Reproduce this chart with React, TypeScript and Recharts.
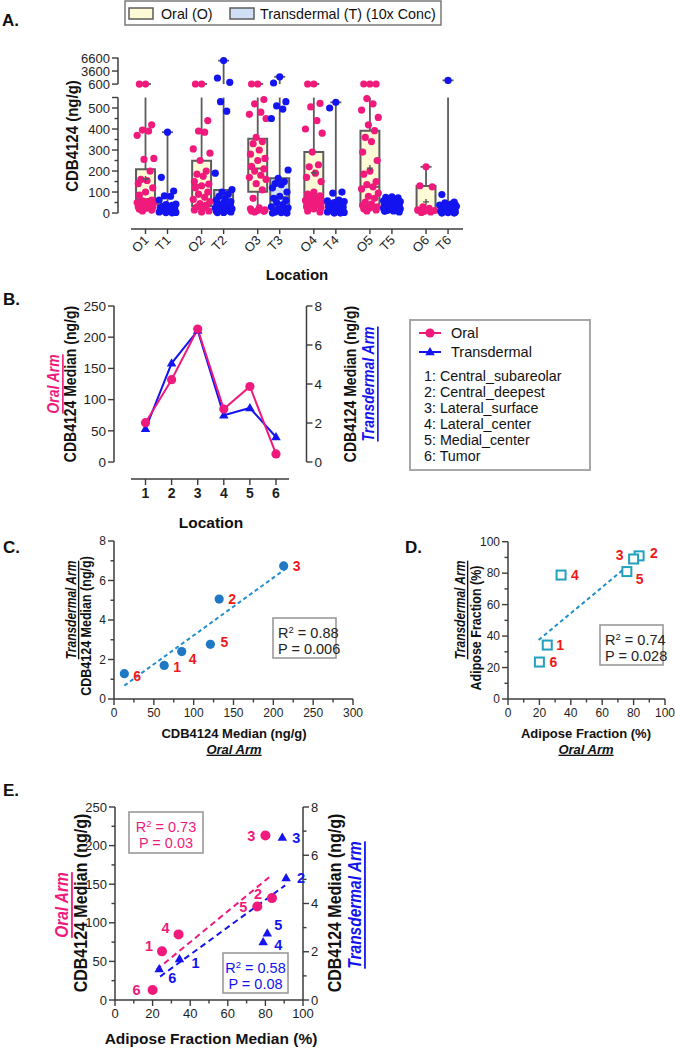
import React from "react";
import {
  ComposedChart,
  Line,
  ReferenceArea,
  ReferenceLine,
  Scatter,
  XAxis,
  YAxis,
} from "recharts";

const FONT = "'Liberation Sans', Arial, Helvetica, sans-serif";
const AX = "#3c3c3c";
const PINK = "#f01a7c";
const BLUE = "#1414f0";
const DOT_BLUE = "#1f78c4";
const TEAL = "#22a0c0";
const FIT = "#1f8fd0";
const RED = "#f01818";
const OFILL = "#fdfbd6";
const TFILL = "#cfe0f6";
const BOXLINE = "#5c5c5c";
const TS = 5;
const TM = 2;

// ---------- Panel A: CDB4124 by location (box + points)
const groupNames = ["O1", "T1", "O2", "T2", "O3", "T3", "O4", "T4", "O5", "T5", "O6", "T6"];
const boxQ1 = [38, 4, 33, 19, 101, 22, 40, 0, 33, 8, 2, 0];
const boxMedian = [66, 20, 133, 49, 212, 75, 85, 30, 125, 25, 6, 10];
const boxQ3 = [208, 42, 249, 110, 354, 166, 290, 56, 392, 48, 129, 48];
const whiskerLow = [10, 0, 5, 0, 5, 0, 5, 0, 10, 0, 0, 0];
const whiskerHigh = [605, 385, 620, 6000, 620, 2270, 620, 527, 640, 77, 220, 1450];
const boxMean: (number | null)[] = [162, null, null, null, null, null, 192, null, 214, null, 53, null];
const groupPoints: number[][] = [
  [600, 605, 420, 395, 390, 370, 260, 255, 200, 160, 155, 140, 120, 100, 85, 62, 58, 55, 50, 48, 45, 42, 40, 36, 30, 28, 22, 18, 14, 10],
  [385, 170, 105, 82, 80, 62, 42, 40, 36, 32, 28, 24, 20, 18, 15, 12, 10, 8, 5, 3, 2, 1],
  [610, 620, 440, 390, 385, 305, 285, 250, 200, 185, 175, 150, 138, 130, 120, 100, 90, 75, 65, 55, 45, 38, 30, 25, 15, 10, 5],
  [6000, 2000, 1000, 530, 485, 190, 112, 100, 90, 80, 70, 62, 55, 50, 45, 40, 35, 30, 25, 20, 18, 15, 12, 10, 8, 5, 3, 2],
  [620, 615, 540, 520, 480, 470, 450, 360, 340, 330, 300, 280, 260, 250, 222, 210, 200, 180, 170, 160, 140, 110, 70, 25, 20, 15, 12, 10, 8, 5],
  [2270, 850, 530, 510, 495, 450, 205, 165, 150, 140, 135, 120, 100, 80, 70, 60, 50, 40, 30, 25, 20, 10, 5, 2, 0, 0],
  [615, 620, 522, 505, 440, 400, 380, 290, 230, 220, 190, 170, 150, 100, 90, 82, 75, 70, 60, 55, 50, 45, 40, 35, 30, 25, 20, 10, 5],
  [527, 500, 100, 95, 62, 58, 55, 50, 45, 40, 36, 32, 28, 25, 20, 15, 10, 8, 5, 3, 0, 0],
  [620, 615, 610, 545, 520, 490, 455, 420, 392, 360, 340, 290, 250, 200, 185, 150, 135, 125, 115, 95, 80, 70, 52, 42, 36, 30, 25, 20, 15, 10],
  [77, 75, 72, 68, 62, 58, 55, 50, 46, 44, 42, 40, 38, 35, 32, 30, 28, 25, 22, 20, 18, 15, 12, 10, 8, 5],
  [220, 130, 125, 30, 22, 15, 12, 8, 5, 3],
  [1450, 88, 52, 48, 42, 38, 32, 28, 22, 18, 12, 8, 5, 2, 0, 0],
];
const aLowerMajor = [0, 100, 200, 300, 400, 500];
const aLowerMinor = [50, 150, 250, 350, 450];
const aUpperMajor = [600, 3600, 6600];

// ---------- Panels B-E: medians per location
const locations = [1, 2, 3, 4, 5, 6];
const locNames = ["Central_subareolar", "Central_deepest", "Lateral_surface", "Lateral_center", "Medial_center", "Tumor"];
const oralMedian = [63, 132, 213, 85, 121, 13];
const transMedian = [1.7, 5.06, 6.74, 2.4, 2.77, 1.28];
const adiposeOral = [25, 83.5, 80, 33.8, 75.7, 20];
const adiposeTrans = [34.3, 91, 89, 78.8, 81, 23.5];
const fitC = [{ x: 13, y: 0.68 }, { x: 214, y: 6.55 }];
const fitD = [{ x: 19.5, y: 37.5 }, { x: 75.5, y: 84 }];
const fitEOral = [{ x: 22, y: 39 }, { x: 82, y: 159 }];
const fitETrans = [{ x: 24, y: 0.97 }, { x: 90.5, y: 4.75 }];

// layout helpers
const JITTER = [0, -0.28, 0.28, -0.14, 0.14, -0.38, 0.38, -0.07, 0.21, -0.21, 0.07, -0.33, 0.33];
const gx = (i: number) => Math.floor(i / 2) * 2.55 + (i % 2);
const yb = (v: number) => (v <= 550 ? v : 614 + (v - 600) * 0.02067);

const oralPts: { x: number; y: number }[] = [];
const transPts: { x: number; y: number }[] = [];
groupPoints.forEach((vals, i) =>
  vals.forEach((v, j) => (i % 2 === 0 ? oralPts : transPts).push({ x: gx(i) + JITTER[j % JITTER.length], y: yb(v) }))
);
const meanPts = boxMean
  .map((m, i) => (m === null ? null : { x: gx(i), y: yb(m) }))
  .filter(Boolean) as { x: number; y: number }[];

const aTicks = [
  ...aLowerMajor.map((v) => ({ t: yb(v), label: String(v), long: true })),
  ...aLowerMinor.map((v) => ({ t: yb(v), label: "", long: false })),
  { t: yb(550), label: "", long: true },
  ...aUpperMajor.map((v) => ({ t: yb(v), label: String(v), long: true })),
];

type Side = "left" | "right" | "bottom";
function makeTick(side: Side, majors: number[], fontSize = 12, bold = false) {
  return function Tick(p: any) {
    const v = p.payload.value;
    const major = majors.some((m) => Math.abs(m - v) < 1e-6);
    const len = major ? 6 : 3.5;
    const txt = { fontFamily: FONT, fontSize, fontWeight: bold ? 700 : 400, fill: "#1e1e1e" };
    if (side === "bottom") {
      const ay = p.y - TS - TM;
      return (
        <g>
          <line x1={p.x} x2={p.x} y1={ay} y2={ay + len} stroke={AX} strokeWidth={1.4} />
          {major && (
            <text x={p.x} y={ay + 8} dy="0.8em" textAnchor="middle" {...txt}>
              {v}
            </text>
          )}
        </g>
      );
    }
    const ax = side === "left" ? p.x + TS + TM : p.x - TS - TM;
    const s = side === "left" ? -1 : 1;
    return (
      <g>
        <line x1={ax} x2={ax + s * len} y1={p.y} y2={p.y} stroke={AX} strokeWidth={1.4} />
        {major && (
          <text x={ax + s * 8} y={p.y} dy="0.36em" textAnchor={side === "left" ? "end" : "start"} {...txt}>
            {v}
          </text>
        )}
      </g>
    );
  };
}

const ATickY = (p: any) => {
  const t = p.payload.value;
  const info = aTicks.find((k) => Math.abs(k.t - t) < 0.01);
  const ax = p.x + TS + TM;
  const len = info && info.long ? 6 : 3.5;
  return (
    <g>
      <line x1={ax} x2={ax - len} y1={p.y} y2={p.y} stroke={AX} strokeWidth={1.4} />
      {info && info.label && (
        <text x={ax - 8} y={p.y} dy="0.36em" textAnchor="end" fontFamily={FONT} fontSize={13} fill="#1e1e1e">
          {info.label}
        </text>
      )}
    </g>
  );
};

const ATickX = (p: any) => {
  const idx = groupNames.findIndex((_, i) => Math.abs(gx(i) - p.payload.value) < 0.01);
  const ay = p.y - TS - TM;
  return (
    <g>
      <line x1={p.x} x2={p.x} y1={ay} y2={ay + 5} stroke={AX} strokeWidth={1.4} />
      <text
        x={p.x + 4}
        y={ay + 12}
        transform={`rotate(-45 ${p.x + 4} ${ay + 12})`}
        textAnchor="end"
        fontFamily={FONT}
        fontSize={13}
        fill="#1e1e1e"
      >
        {groupNames[idx]}
      </text>
    </g>
  );
};

const tri = (cx: number, cy: number, s: number) =>
  `M${cx},${cy - s} L${cx + s * 0.95},${cy + s * 0.65} L${cx - s * 0.95},${cy + s * 0.65} Z`;

function PanelA() {
  const xMin = -1.25;
  return (
    <ComposedChart width={675} height={260} margin={{ top: 55.5, right: 212, bottom: 0, left: 68 }}>
      <XAxis
        type="number"
        dataKey="x"
        domain={[xMin, 14.43]}
        ticks={groupNames.map((_, i) => gx(i))}
        interval={0}
        allowDataOverflow
        axisLine={false}
        tickLine={false}
        tickSize={TS}
        tickMargin={TM}
        height={31}
        tick={ATickX}
      />
      <YAxis
        type="number"
        dataKey="y"
        domain={[-76, 750]}
        ticks={aTicks.map((k) => k.t)}
        interval={0}
        allowDataOverflow
        axisLine={false}
        tickLine={false}
        tickSize={TS}
        tickMargin={TM}
        width={50}
        tick={ATickY}
      />
      <ReferenceLine segment={[{ x: xMin, y: 0 }, { x: xMin, y: 550 }]} stroke={AX} strokeWidth={1.5} ifOverflow="visible" />
      <ReferenceLine segment={[{ x: xMin, y: yb(600) }, { x: xMin, y: yb(6650) }]} stroke={AX} strokeWidth={1.5} ifOverflow="visible" />
      <ReferenceLine segment={[{ x: -0.66, y: -76 }, { x: 14.43, y: -76 }]} stroke={AX} strokeWidth={1.5} ifOverflow="visible" />
      {groupNames.map((_, i) => {
        const x = gx(i);
        const hi = whiskerHigh[i];
        const els = [
          <ReferenceLine key={`wl${i}`} segment={[{ x, y: whiskerLow[i] }, { x, y: boxQ1[i] }]} stroke={BOXLINE} strokeWidth={1.8} ifOverflow="visible" />,
          <ReferenceLine key={`wh${i}`} segment={[{ x, y: boxQ3[i] }, { x, y: Math.min(hi, 550) }]} stroke={BOXLINE} strokeWidth={1.8} ifOverflow="visible" />,
        ];
        if (hi > 600) {
          els.push(
            <ReferenceLine key={`wu${i}`} segment={[{ x, y: yb(600) }, { x, y: yb(hi) }]} stroke={BOXLINE} strokeWidth={1.8} ifOverflow="visible" />
          );
        }
        els.push(
          <ReferenceLine key={`cap${i}`} segment={[{ x: x - 0.25, y: yb(hi) }, { x: x + 0.25, y: yb(hi) }]} stroke={BOXLINE} strokeWidth={1.8} ifOverflow="visible" />,
          <ReferenceArea
            key={`box${i}`}
            x1={x - 0.43}
            x2={x + 0.43}
            y1={boxQ1[i]}
            y2={boxQ3[i]}
            fill={i % 2 === 0 ? OFILL : TFILL}
            fillOpacity={1}
            stroke={BOXLINE}
            strokeWidth={2}
            ifOverflow="visible"
          />,
          <ReferenceLine key={`med${i}`} segment={[{ x: x - 0.43, y: boxMedian[i] }, { x: x + 0.43, y: boxMedian[i] }]} stroke={BOXLINE} strokeWidth={2} ifOverflow="visible" />
        );
        return els;
      })}
      <Scatter data={oralPts} fill={PINK} isAnimationActive={false} shape={(p: any) => <circle cx={p.cx} cy={p.cy} r={3.6} fill={PINK} />} />
      <Scatter data={transPts} fill={BLUE} isAnimationActive={false} shape={(p: any) => <circle cx={p.cx} cy={p.cy} r={3.6} fill={BLUE} />} />
      <Scatter
        data={meanPts}
        isAnimationActive={false}
        shape={(p: any) => (
          <path d={`M${p.cx - 3},${p.cy} H${p.cx + 3} M${p.cx},${p.cy - 3} V${p.cy + 3}`} stroke="#555" strokeWidth={1.4} />
        )}
      />
    </ComposedChart>
  );
}

const bData = locations.map((loc, i) => ({ loc, oral: oralMedian[i], trans: transMedian[i] }));

function PanelB() {
  const xMin = -0.207;
  const xMax = 7.169;
  return (
    <ComposedChart width={675} height={210} data={bData} margin={{ top: 16, right: 328.5, bottom: 0, left: 74 }}>
      <XAxis
        type="number"
        dataKey="loc"
        domain={[xMin, xMax]}
        ticks={locations}
        interval={0}
        allowDataOverflow
        axisLine={false}
        tickLine={false}
        tickSize={TS}
        tickMargin={TM}
        height={21}
        tick={makeTick("bottom", locations, 14, true)}
      />
      <YAxis
        yAxisId="l"
        type="number"
        domain={[-27.2, 250]}
        ticks={[0, 50, 100, 150, 200, 250]}
        interval={0}
        allowDataOverflow
        axisLine={false}
        tickLine={false}
        tickSize={TS}
        tickMargin={TM}
        width={40}
        tick={makeTick("left", [0, 50, 100, 150, 200, 250], 13.5)}
      />
      <YAxis
        yAxisId="r"
        orientation="right"
        type="number"
        domain={[-0.872, 8]}
        ticks={[0, 2, 4, 6, 8]}
        interval={0}
        allowDataOverflow
        axisLine={false}
        tickLine={false}
        tickSize={TS}
        tickMargin={TM}
        width={40}
        tick={makeTick("right", [0, 2, 4, 6, 8], 13.5)}
      />
      <ReferenceLine yAxisId="l" segment={[{ x: xMin, y: 0 }, { x: xMin, y: 250 }]} stroke={AX} strokeWidth={1.5} ifOverflow="visible" />
      <ReferenceLine yAxisId="r" segment={[{ x: xMax, y: 0 }, { x: xMax, y: 8 }]} stroke={AX} strokeWidth={1.5} ifOverflow="visible" />
      <ReferenceLine yAxisId="l" segment={[{ x: 0.444, y: -27.2 }, { x: 6.5, y: -27.2 }]} stroke={AX} strokeWidth={1.5} ifOverflow="visible" />
      <Line
        yAxisId="r"
        type="linear"
        dataKey="trans"
        stroke={BLUE}
        strokeWidth={2}
        isAnimationActive={false}
        dot={(p: any) => <path key={`t${p.index}`} d={tri(p.cx, p.cy, 5)} fill={BLUE} />}
      />
      <Line
        yAxisId="l"
        type="linear"
        dataKey="oral"
        stroke={PINK}
        strokeWidth={2}
        isAnimationActive={false}
        dot={(p: any) => <circle key={`o${p.index}`} cx={p.cx} cy={p.cy} r={4.6} fill={PINK} />}
      />
    </ComposedChart>
  );
}

const cData = locations.map((loc, i) => ({ x: oralMedian[i], y: transMedian[i], loc }));
const dData = locations.map((loc, i) => ({ x: adiposeOral[i], y: adiposeTrans[i], loc }));
const eOral = locations.map((loc, i) => ({ x: adiposeOral[i], y: oralMedian[i], loc }));
const eTrans = locations.map((loc, i) => ({ x: adiposeTrans[i], y: transMedian[i], loc }));

const cLabelOff: [number, number][] = [[9, 2], [9, 0], [9, 0], [7, 7], [10, -2], [9, 2]];
const dLabelOff: [number, number][] = [[9, 0], [11, -3], [-10, -4], [10, 0], [9, 7], [10, 0]];
const eOralOff: [number, number][] = [[-9, -6], [-10, -4], [-10, 0], [-9, -7], [-10, 0], [-12, 0]];
const eTransOff: [number, number][] = [[12, 4], [11, 0], [10, 0], [11, 3], [7, -8], [9, 9]];

const ptLabel = (x: number, y: number, text: number, fill: string, anchor: "start" | "end" = "start", fs = 14) => (
  <text x={x} y={y} dy="0.36em" textAnchor={anchor} fontFamily={FONT} fontWeight={700} fontSize={fs} fill={fill}>
    {text}
  </text>
);

function PanelC() {
  return (
    <ComposedChart width={380} height={189} margin={{ top: 11, right: 27, bottom: 0, left: 74 }}>
      <XAxis
        type="number"
        dataKey="x"
        domain={[0, 300]}
        ticks={[0, 25, 50, 75, 100, 125, 150, 175, 200, 225, 250, 275, 300]}
        interval={0}
        stroke={AX}
        strokeWidth={1.5}
        tickLine={false}
        tickSize={TS}
        tickMargin={TM}
        height={20}
        tick={makeTick("bottom", [0, 50, 100, 150, 200, 250, 300])}
      />
      <YAxis
        type="number"
        dataKey="y"
        domain={[0, 8]}
        ticks={[0, 1, 2, 3, 4, 5, 6, 7, 8]}
        interval={0}
        stroke={AX}
        strokeWidth={1.5}
        tickLine={false}
        tickSize={TS}
        tickMargin={TM}
        width={40}
        tick={makeTick("left", [0, 2, 4, 6, 8])}
      />
      <ReferenceLine segment={fitC} stroke={FIT} strokeWidth={2} strokeDasharray="4 3" ifOverflow="visible" />
      <Scatter
        data={cData}
        isAnimationActive={false}
        shape={(p: any) => {
          const o = cLabelOff[p.payload.loc - 1];
          return (
            <g>
              <circle cx={p.cx} cy={p.cy} r={4.6} fill={DOT_BLUE} />
              {ptLabel(p.cx + o[0], p.cy + o[1], p.payload.loc, RED)}
            </g>
          );
        }}
      />
    </ComposedChart>
  );
}

function PanelD() {
  return (
    <ComposedChart width={295} height={189} margin={{ top: 11.7, right: 10, bottom: 0, left: 88 }}>
      <XAxis
        type="number"
        dataKey="x"
        domain={[0, 100]}
        ticks={[0, 10, 20, 30, 40, 50, 60, 70, 80, 90, 100]}
        interval={0}
        stroke={AX}
        strokeWidth={1.5}
        tickLine={false}
        tickSize={TS}
        tickMargin={TM}
        height={20}
        tick={makeTick("bottom", [0, 20, 40, 60, 80, 100])}
      />
      <YAxis
        type="number"
        dataKey="y"
        domain={[0, 100]}
        ticks={[0, 10, 20, 30, 40, 50, 60, 70, 80, 90, 100]}
        interval={0}
        stroke={AX}
        strokeWidth={1.5}
        tickLine={false}
        tickSize={TS}
        tickMargin={TM}
        width={40}
        tick={makeTick("left", [0, 20, 40, 60, 80, 100])}
      />
      <ReferenceLine segment={fitD} stroke={FIT} strokeWidth={2} strokeDasharray="4 3" ifOverflow="visible" />
      <Scatter
        data={dData}
        isAnimationActive={false}
        shape={(p: any) => {
          const o = dLabelOff[p.payload.loc - 1];
          return (
            <g>
              <rect x={p.cx - 4.5} y={p.cy - 4.5} width={9} height={9} fill="#fff" stroke={TEAL} strokeWidth={2} />
              {ptLabel(p.cx + o[0], p.cy + o[1], p.payload.loc, RED, o[0] < 0 ? "end" : "start")}
            </g>
          );
        }}
      />
    </ComposedChart>
  );
}

function PanelE() {
  return (
    <ComposedChart width={420} height={240} margin={{ top: 17, right: 77, bottom: 0, left: 75 }}>
      <XAxis
        type="number"
        dataKey="x"
        domain={[0, 100]}
        ticks={[0, 10, 20, 30, 40, 50, 60, 70, 80, 90, 100]}
        interval={0}
        stroke={AX}
        strokeWidth={1.5}
        tickLine={false}
        tickSize={TS}
        tickMargin={TM}
        height={30}
        tick={makeTick("bottom", [0, 20, 40, 60, 80, 100], 13)}
      />
      <YAxis
        yAxisId="l"
        type="number"
        dataKey="y"
        domain={[0, 250]}
        ticks={[0, 25, 50, 75, 100, 125, 150, 175, 200, 225, 250]}
        interval={0}
        stroke={AX}
        strokeWidth={1.5}
        tickLine={false}
        tickSize={TS}
        tickMargin={TM}
        width={40}
        tick={makeTick("left", [0, 50, 100, 150, 200, 250], 13)}
      />
      <YAxis
        yAxisId="r"
        orientation="right"
        type="number"
        dataKey="y"
        domain={[0, 8]}
        ticks={[0, 1, 2, 3, 4, 5, 6, 7, 8]}
        interval={0}
        stroke={AX}
        strokeWidth={1.5}
        tickLine={false}
        tickSize={TS}
        tickMargin={TM}
        width={40}
        tick={makeTick("right", [0, 2, 4, 6, 8], 13)}
      />
      <ReferenceLine yAxisId="l" segment={fitEOral} stroke={PINK} strokeWidth={2} strokeDasharray="6 4" ifOverflow="visible" />
      <ReferenceLine yAxisId="r" segment={fitETrans} stroke={BLUE} strokeWidth={2} strokeDasharray="6 4" ifOverflow="visible" />
      <Scatter
        yAxisId="l"
        data={eOral}
        isAnimationActive={false}
        shape={(p: any) => {
          const o = eOralOff[p.payload.loc - 1];
          return (
            <g>
              <circle cx={p.cx} cy={p.cy} r={5} fill={PINK} />
              {ptLabel(p.cx + o[0], p.cy + o[1], p.payload.loc, PINK, "end", 14.5)}
            </g>
          );
        }}
      />
      <Scatter
        yAxisId="r"
        data={eTrans}
        isAnimationActive={false}
        shape={(p: any) => {
          const o = eTransOff[p.payload.loc - 1];
          return (
            <g>
              <path d={tri(p.cx, p.cy, 5)} fill={BLUE} />
              {ptLabel(p.cx + o[0], p.cy + o[1], p.payload.loc, BLUE, "start", 14.5)}
            </g>
          );
        }}
      />
    </ComposedChart>
  );
}

const T = (props: any) => <text fontFamily={FONT} fill="#111" {...props} />;
// vertical axis titles; the glyphs are widened a little, as in the source figure
const VT = ({ x, y, children, ...rest }: any) => (
  <text
    transform={`translate(${x},${y}) rotate(-90) scale(1,1.15)`}
    textAnchor="middle"
    dominantBaseline="central"
    fontFamily={FONT}
    fontWeight={700}
    fill="#111"
    {...rest}
  >
    {children}
  </text>
);
const UL = { textDecoration: "underline" };

function StatBox({ x, y, w, h, r2, p, color, center }: any) {
  const tx = center ? x + w / 2 : x + 5;
  const anchor = center ? "middle" : "start";
  return (
    <g>
      <rect x={x} y={y} width={w} height={h} fill="#fff" stroke="#9a9a9a" strokeWidth={1.6} />
      <text x={tx} y={y + h * 0.36} dy="0.36em" textAnchor={anchor} fontFamily={FONT} fontSize={14.5} fill={color}>
        R<tspan dy={-5} fontSize={9.5}>2</tspan>
        <tspan dy={5}> = {r2}</tspan>
      </text>
      <text x={tx} y={y + h * 0.76} dy="0.36em" textAnchor={anchor} fontFamily={FONT} fontSize={14.5} fill={color}>
        P = {p}
      </text>
    </g>
  );
}

function Overlay() {
  return (
    <svg width={675} height={1050} style={{ position: "absolute", left: 0, top: 0, pointerEvents: "none" }}>
      {/* Panel A */}
      <T x={2} y={26} fontSize={17} fontWeight={700}>A.</T>
      <rect x={125} y={1} width={316} height={24} fill="#fff" stroke="#7a7a7a" strokeWidth={1.5} />
      <rect x={129} y={8} width={24} height={11} fill={OFILL} stroke={BOXLINE} strokeWidth={1.5} />
      <T x={161} y={18.5} fontSize={14.3}>Oral (O)</T>
      <rect x={230} y={8} width={24} height={11} fill={TFILL} stroke={BOXLINE} strokeWidth={1.5} />
      <T x={260} y={18.5} fontSize={14.3}>Transdermal (T) (10x Conc)</T>
      <VT x={72} y={136} fontSize={15}>CDB4124 (ng/g)</VT>
      <T x={297} y={280} fontSize={15} fontWeight={700} textAnchor="middle">Location</T>

      {/* Panel B */}
      <T x={3} y={305} fontSize={17} fontWeight={700}>B.</T>
      <VT x={53} y={384} fontSize={14} fill={PINK} fontStyle="italic" style={UL}>Oral Arm</VT>
      <VT x={70} y={384} fontSize={14}>CDB4124 Median (ng/g)</VT>
      <VT x={350} y={384} fontSize={14}>CDB4124 Median (ng/g)</VT>
      <VT x={368} y={384} fontSize={14} fill={BLUE} fontStyle="italic" style={UL}>Transdermal Arm</VT>
      <T x={211} y={528} fontSize={15.5} fontWeight={700} textAnchor="middle">Location</T>
      <rect x={410} y={320} width={180} height={150} fill="#fff" stroke="#a8a8a8" strokeWidth={2} />
      <line x1={419} x2={441} y1={333} y2={333} stroke={PINK} strokeWidth={2} />
      <circle cx={430} cy={333} r={4.6} fill={PINK} />
      <T x={451} y={333} dy="0.36em" fontSize={14.5}>Oral</T>
      <line x1={419} x2={441} y1={352} y2={352} stroke={BLUE} strokeWidth={2} />
      <path d={tri(430, 352, 5)} fill={BLUE} />
      <T x={451} y={352} dy="0.36em" fontSize={14.5}>Transdermal</T>
      {locNames.map((n, i) => (
        <T key={n} x={424} y={376 + 16 * i} dy="0.36em" fontSize={14.3}>
          {`${locations[i]}: ${n}`}
        </T>
      ))}

      {/* Panel C */}
      <T x={3} y={553} fontSize={17} fontWeight={700}>C.</T>
      <VT x={71} y={610} fontSize={12} fontStyle="italic" style={UL}>Transdermal Arm</VT>
      <VT x={86} y={626} fontSize={12.5}>CDB4124 Median (ng/g)</VT>
      <T x={234} y={733} dy="0.36em" fontSize={13} fontWeight={700} textAnchor="middle">CDB4124 Median (ng/g)</T>
      <T x={234} y={749} dy="0.36em" fontSize={13} fontWeight={700} fontStyle="italic" textAnchor="middle" style={UL}>Oral Arm</T>
      <StatBox x={273} y={618} w={63} h={40} r2="0.88" p="0.006" color="#222" />

      {/* Panel D */}
      <T x={405} y={553} fontSize={17} fontWeight={700}>D.</T>
      <VT x={460} y={610} fontSize={12} fontStyle="italic" style={UL}>Transdermal Arm</VT>
      <VT x={476} y={628} fontSize={12.5}>Adipose Fraction (%)</VT>
      <T x={586} y={733} dy="0.36em" fontSize={13} fontWeight={700} textAnchor="middle">Adipose Fraction (%)</T>
      <T x={586} y={749} dy="0.36em" fontSize={13} fontWeight={700} fontStyle="italic" textAnchor="middle" style={UL}>Oral Arm</T>
      <StatBox x={600} y={625} w={63} h={40} r2="0.74" p="0.028" color="#222" />

      {/* Panel E */}
      <T x={3} y={796} fontSize={17} fontWeight={700}>E.</T>
      <VT x={62} y={905} fontSize={15.5} fill={PINK} fontStyle="italic" style={UL}>Oral Arm</VT>
      <VT x={81} y={903} fontSize={16}>CDB4124 Median (ng/g)</VT>
      <VT x={335} y={903} fontSize={16}>CDB4124 Median (ng/g)</VT>
      <VT x={355} y={905} fontSize={15.5} fill={BLUE} fontStyle="italic" style={UL}>Transdermal Arm</VT>
      <T x={211} y={1038} dy="0.36em" fontSize={15.5} fontWeight={700} textAnchor="middle">Adipose Fraction Median (%)</T>
      <StatBox x={129} y={812} w={74} h={41} r2="0.73" p="0.03" color={PINK} center />
      <StatBox x={223} y={953} w={65} h={40} r2="0.58" p="0.08" color={BLUE} center />
    </svg>
  );
}

export default function App() {
  return (
    <div style={{ position: "absolute", left: 0, top: 0, width: 675, height: 1050, background: "#fff", overflow: "hidden", fontFamily: FONT }}>
      <div style={{ position: "absolute", left: 0, top: 0 }}>
        <PanelA />
      </div>
      <div style={{ position: "absolute", left: 0, top: 290 }}>
        <PanelB />
      </div>
      <div style={{ position: "absolute", left: 0, top: 530 }}>
        <PanelC />
      </div>
      <div style={{ position: "absolute", left: 380, top: 530 }}>
        <PanelD />
      </div>
      <div style={{ position: "absolute", left: 0, top: 790 }}>
        <PanelE />
      </div>
      <Overlay />
    </div>
  );
}
